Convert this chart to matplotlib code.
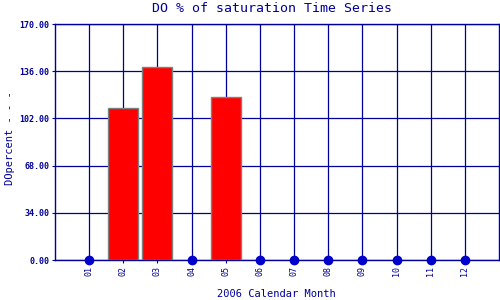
import matplotlib.pyplot as plt
import numpy as np

# Data
months = ['01', '02', '03', '04', '05', '06', '07', '08', '09', '10', '11', '12']
do_percent = [0, 109.3, 138.8, 0, 117.2, 0, 0, 0, 0, 0, 0, 0]
yticks = [0, 34, 68, 102, 136, 170]

navy = '#000099'
font = 'DejaVu Sans Mono'

fig = plt.figure(figsize=(5, 3), dpi=100)
ax = fig.add_axes([0.11, 0.1333, 0.888, 0.7867])

x = np.arange(1, len(months) + 1)
vals = np.array(do_percent)
has = vals > 0

ax.set_axisbelow(True)
ax.grid(True, color=navy, linewidth=0.9)
ax.bar(x[has], vals[has], width=0.88, color='#FF0000', edgecolor='#808080',
       linewidth=1.0, zorder=3)
ax.plot(x[~has], vals[~has], 'o', color='#0000CC', markersize=6, zorder=4,
        clip_on=False)

ax.set_xlim(0, 13)
ax.set_ylim(0, 170)
ax.set_xticks(x)
ax.set_xticklabels(months, rotation=90, fontsize=6, family=font, color=navy)
ax.set_yticks(yticks)
ax.set_yticklabels([f'{v:.2f}' for v in yticks], fontsize=6, family=font,
                   color=navy, fontweight='bold')
ax.tick_params(axis='both', length=2, color=navy, pad=2)
for s in ax.spines.values():
    s.set_color(navy)
    s.set_linewidth(1.0)

fig.text(0.545, 0.973, 'DO % of saturation Time Series', ha='center', va='center',
         fontsize=9.5, family=font, color=navy)
fig.text(0.552, 0.02, '2006 Calendar Month', ha='center', va='center',
         fontsize=7.5, family=font, color=navy)
fig.text(0.02, 0.54, 'DOpercent - - -', ha='center', va='center', rotation=90,
         fontsize=7.5, family=font, color=navy)

fig.savefig('out.png', dpi=100)
